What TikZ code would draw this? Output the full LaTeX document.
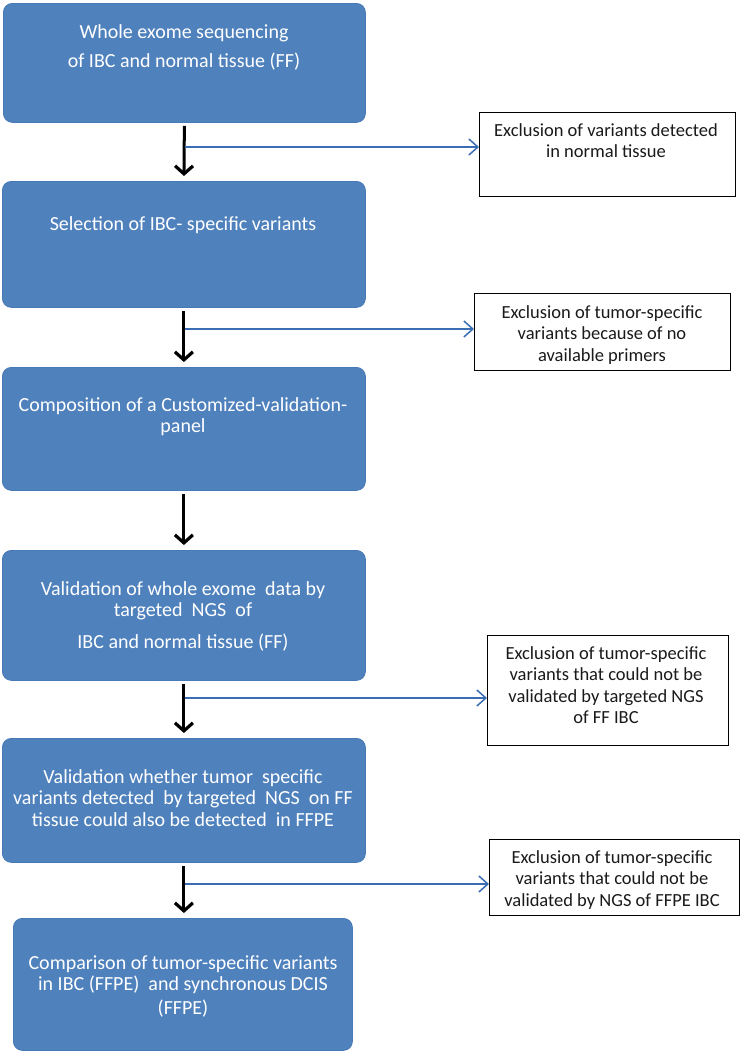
\documentclass[tikz,border=0pt]{standalone}
\usepackage{fontspec}
\setmainfont{Carlito}
\usetikzlibrary{arrows.meta}
\definecolor{boxblue}{HTML}{4F81BD}
\definecolor{boxedge}{HTML}{4679B5}
\definecolor{lineblue}{HTML}{3A6DB3}
\definecolor{darktext}{HTML}{1A1A1A}
\begin{document}
\begin{tikzpicture}[x=1pt,y=-1pt,
  bluebox/.style={draw=boxedge, fill=boxblue, rounded corners=9pt, line width=0.8pt, anchor=north west, inner sep=0pt},
  whitebox/.style={draw=black, fill=white, line width=1.2pt, anchor=north west, inner sep=0pt},
  bluetext/.style={text=white, align=center, anchor=north, inner sep=0pt, font=\fontsize{20}{21.5}\selectfont},
  sidetext/.style={text=darktext, align=center, anchor=north, inner sep=0pt, font=\fontsize{18.5}{21.5}\selectfont},
  mainarrow/.style={draw=black, line width=3pt, -{Straight Barb[length=8pt,width=18pt,line width=3.2pt]}, shorten <=3pt, shorten >=5pt},
  sidearrow/.style={draw=lineblue, line width=1.5pt, -{Straight Barb[length=9pt,width=16pt,line width=1.5pt]}}
]
\useasboundingbox (0,0) rectangle (742,1052);
\fill[white] (0,0) rectangle (742,1052);

% main column boxes
\node[bluebox, minimum width=362pt, minimum height=119pt] (b1) at (3,3) {};
\node[bluebox, minimum width=363pt, minimum height=126pt] (b2) at (2,181) {};
\node[bluebox, minimum width=363pt, minimum height=123pt] (b3) at (2,367) {};
\node[bluebox, minimum width=363pt, minimum height=130pt] (b4) at (2,550) {};
\node[bluebox, minimum width=363pt, minimum height=124pt] (b5) at (2,738) {};
\node[bluebox, minimum width=339pt, minimum height=132pt] (b6) at (13,918) {};

% main column texts
\node[bluetext] (t1) at (184,24) {Whole exome sequencing\\[8pt]of IBC and normal tissue (FF)};
\node[bluetext] (t2) at (183,216) {Selection of IBC- specific variants};
\node[bluetext] (t3) at (183,397) {Composition of a Customized-validation-\\panel};
\node[bluetext] (t4) at (183,581) {Validation of whole exome\ \ data by\\targeted\ \ NGS\ \ of\\[10pt]IBC and normal tissue (FF)};
\node[bluetext] (t5) at (183,769) {Validation whether tumor\ \ specific\\variants detected\ \ by targeted\ \ NGS\ \ on FF\\tissue could also be detected\ \ in FFPE};
\node[bluetext] (t6) at (183,955) {Comparison of tumor-specific variants\\in IBC (FFPE)\ \ and synchronous DCIS\\[2pt](FFPE)};

% side boxes
\node[whitebox, minimum width=256pt, minimum height=84pt] (r1) at (479,112) {};
\node[whitebox, minimum width=256pt, minimum height=77pt] (r2) at (474,293) {};
\node[whitebox, minimum width=241pt, minimum height=110pt] (r3) at (487,635) {};
\node[whitebox, minimum width=250pt, minimum height=76pt] (r4) at (489,839) {};

% side texts
\node[sidetext] (s1) at (606,123) {Exclusion of variants detected\\in normal tissue};
\node[sidetext] (s2) at (602,305) {Exclusion of tumor-specific\\variants because of no\\available primers};
\node[sidetext] (s3) at (606,646) {Exclusion of tumor-specific\\variants that could not be\\validated by targeted NGS\\of FF IBC};
\node[sidetext] (s4) at (612,850) {Exclusion of tumor-specific\\variants that could not be\\validated by NGS of FFPE IBC};

% main arrows
\draw[mainarrow] (b1.south) -- (b2.north);
\draw[mainarrow] (b2.south) -- (b3.north);
\draw[mainarrow] (b3.south) -- (b4.north);
\draw[mainarrow] (b4.south) -- (b5.north);
\draw[mainarrow] (b5.south) -- (b5.south |- b6.north);

% side arrows
\coordinate (j1) at (185,147);
\coordinate (j2) at (185,329);
\coordinate (j3) at (185,698);
\coordinate (j4) at (185,884);
\draw[sidearrow] (j1) -- (j1 -| r1.west);
\draw[sidearrow] (j2) -- (j2 -| r2.west);
\draw[sidearrow] (j3) -- (j3 -| r3.west);
\draw[sidearrow] (j4) -- (j4 -| r4.west);
\end{tikzpicture}
\end{document}
